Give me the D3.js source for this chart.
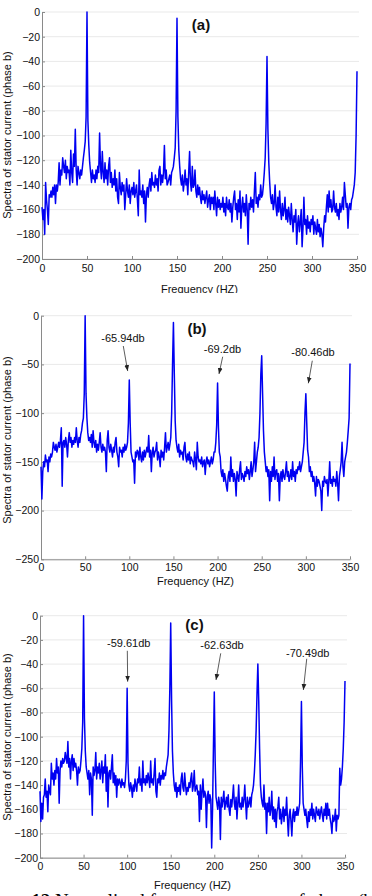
<!DOCTYPE html>
<html>
<head>
<meta charset="utf-8">
<script src="https://cdn.jsdelivr.net/npm/d3@7"></script>
<style>
html, body { margin: 0; padding: 0; background: #fff; }
svg { display: block; font-family: "Liberation Sans", Arial, sans-serif; }
</style>
</head>
<body>
<div id="chart"></div>
<script>
// spectra, 1 Hz steps from 0 to 350 Hz (dB)
const spectrumA = [
  -158,-168,-160,-180,-138,-152,-160,-172,-148,-150,
  -145,-150,-142,-148,-140,-155,-140,-145,-138,-122,
  -140,-128,-132,-118,-125,-130,-120,-135,-125,-130,
  -128,-140,-112,-130,-138,-115,-125,-95,-128,-140,
  -125,-130,-135,-128,-132,-125,-118,-112,-105,-85,
  0,-88,-108,-122,-130,-138,-128,-135,-132,-138,
  -128,-135,-125,-130,-98,-125,-135,-113,-130,-138,
  -122,-135,-128,-140,-125,-118,-138,-130,-142,-135,
  -140,-128,-145,-135,-150,-155,-130,-142,-148,-138,
  -145,-140,-160,-148,-135,-145,-150,-140,-155,-145,
  -142,-148,-138,-150,-145,-140,-152,-165,-128,-148,
  -145,-150,-140,-155,-145,-170,-148,-142,-150,-140,
  -135,-145,-130,-140,-138,-142,-132,-140,-135,-145,
  -128,-125,-140,-132,-138,-130,-108,-135,-128,-140,
  -138,-135,-132,-140,-130,-128,-125,-118,-110,-80,
  -5,-85,-112,-125,-135,-140,-132,-145,-138,-128,
  -140,-135,-148,-130,-113,-138,-145,-125,-142,-140,
  -128,-145,-150,-140,-148,-142,-150,-155,-145,-152,
  -148,-155,-150,-145,-158,-152,-148,-160,-150,-155,
  -150,-160,-145,-155,-165,-150,-158,-152,-160,-155,
  -158,-150,-162,-155,-165,-150,-158,-160,-152,-162,
  -155,-170,-158,-150,-145,-160,-155,-168,-152,-162,
  -145,-175,-158,-150,-162,-155,-165,-148,-160,-188,
  -155,-160,-150,-158,-152,-162,-145,-130,-155,-150,
  -158,-148,-152,-140,-150,-148,-140,-130,-118,-90,
  -36,-95,-122,-138,-150,-155,-148,-160,-155,-140,
  -158,-165,-150,-162,-145,-160,-168,-155,-165,-160,
  -150,-168,-160,-170,-158,-165,-172,-155,-168,-178,
  -165,-170,-160,-188,-172,-165,-178,-170,-160,-190,
  -175,-150,-172,-168,-180,-165,-175,-170,-178,-168,
  -172,-165,-180,-170,-175,-180,-168,-178,-172,-182,
  -175,-180,-190,-175,-165,-170,-158,-148,-162,-145,
  -158,-152,-162,-160,-145,-158,-162,-155,-165,-160,
  -168,-155,-162,-158,-150,-160,-138,-148,-158,-155,
  -175,-158,-155,-160,-152,-150,-145,-140,-130,-100,
  -48
];

const spectrumB = [
  -155,-188,-160,-150,-155,-143,-150,-148,-160,-145,
  -150,-142,-145,-140,-130,-135,-138,-132,-140,-135,
  -130,-135,-128,-115,-175,-130,-128,-135,-125,-132,
  -145,-128,-120,-130,-125,-135,-128,-132,-125,-130,
  -115,-128,-135,-125,-130,-122,-118,-110,-105,-80,
  0,-80,-105,-120,-128,-125,-130,-122,-135,-118,
  -130,-135,-128,-140,-132,-138,-130,-120,-135,-140,
  -132,-138,-135,-140,-160,-128,-118,-135,-140,-132,
  -138,-145,-135,-140,-130,-125,-140,-145,-155,-135,
  -140,-138,-145,-135,-140,-132,-138,-135,-130,-110,
  -66,-110,-140,-145,-150,-148,-172,-140,-145,-138,
  -140,-148,-135,-145,-150,-140,-148,-138,-145,-140,
  -135,-140,-123,-145,-138,-160,-140,-135,-145,-140,
  -138,-130,-148,-140,-145,-155,-138,-145,-140,-148,
  -135,-120,-140,-135,-130,-138,-132,-125,-100,-50,
  -7,-60,-108,-128,-135,-140,-132,-145,-138,-142,
  -140,-148,-135,-130,-145,-150,-142,-148,-140,-152,
  -145,-148,-150,-155,-140,-148,-158,-130,-145,-150,
  -148,-152,-145,-155,-150,-148,-163,-150,-145,-152,
  -148,-155,-150,-145,-152,-148,-140,-140,-130,-112,
  -69,-115,-140,-145,-160,-165,-158,-170,-162,-168,
  -175,-180,-165,-160,-170,-145,-165,-158,-170,-162,
  -168,-185,-160,-165,-170,-158,-150,-168,-162,-165,
  -170,-160,-165,-155,-162,-158,-168,-160,-150,-165,
  -158,-150,-130,-160,-150,-140,-135,-125,-100,-60,
  -41,-80,-118,-140,-150,-160,-155,-165,-158,-190,
  -160,-170,-155,-165,-145,-168,-160,-158,-170,-162,
  -190,-165,-160,-170,-158,-165,-168,-160,-150,-165,
  -160,-170,-165,-158,-168,-150,-165,-160,-170,-158,
  -162,-155,-158,-150,-160,-155,-150,-140,-130,-100,
  -80,-110,-138,-145,-160,-155,-165,-160,-170,-165,
  -172,-185,-165,-175,-168,-170,-175,-180,-200,-170,
  -175,-165,-170,-172,-168,-185,-170,-150,-172,-168,
  -175,-165,-170,-168,-175,-160,-172,-190,-165,-158,
  -150,-130,-155,-165,-150,-145,-140,-130,-118,-105,
  -49
];

const spectrumC = [
  -145,-170,-155,-168,-150,-148,-135,-150,-145,-162,
  -140,-145,-148,-122,-135,-130,-140,-128,-135,-118,
  -130,-125,-155,-128,-120,-125,-118,-122,-120,-113,
  -118,-122,-104,-125,-118,-135,-120,-115,-128,-118,
  -125,-122,-128,-140,-125,-130,-128,-120,-110,-88,
  0,-85,-112,-125,-130,-135,-128,-148,-130,-135,
  -165,-125,-132,-128,-113,-135,-125,-130,-122,-135,
  -128,-120,-138,-125,-130,-115,-145,-125,-158,-130,
  -128,-135,-125,-115,-138,-130,-140,-132,-150,-135,
  -140,-135,-138,-142,-135,-140,-138,-142,-135,-120,
  -60,-122,-140,-145,-138,-142,-150,-140,-145,-135,
  -140,-145,-135,-138,-125,-140,-135,-145,-120,-138,
  -135,-140,-132,-138,-130,-135,-142,-120,-138,-135,
  -140,-130,-118,-145,-150,-135,-138,-130,-140,-132,
  -135,-128,-135,-130,-132,-125,-120,-115,-95,-60,
  -6,-70,-112,-130,-140,-145,-138,-150,-142,-145,
  -140,-148,-135,-130,-142,-145,-130,-140,-148,-142,
  -145,-138,-142,-135,-130,-145,-140,-128,-145,-142,
  -140,-148,-145,-170,-140,-160,-145,-135,-150,-145,
  -148,-175,-150,-145,-155,-148,-152,-192,-160,-110,
  -63,-120,-150,-155,-160,-150,-155,-185,-150,-158,
  -152,-145,-160,-155,-150,-158,-148,-160,-165,-152,
  -158,-150,-140,-155,-160,-150,-168,-155,-140,-158,
  -155,-160,-150,-158,-152,-140,-155,-168,-150,-158,
  -155,-150,-158,-148,-145,-140,-130,-115,-95,-65,
  -40,-70,-110,-140,-150,-155,-158,-140,-160,-155,
  -180,-155,-162,-150,-165,-160,-145,-168,-158,-170,
  -160,-175,-162,-158,-150,-168,-160,-172,-165,-158,
  -170,-160,-165,-150,-168,-182,-165,-160,-170,-182,
  -165,-160,-170,-162,-165,-158,-165,-160,-155,-120,
  -71,-125,-155,-160,-165,-160,-168,-175,-162,-170,
  -160,-165,-155,-168,-160,-165,-170,-158,-162,-165,
  -160,-168,-162,-158,-165,-170,-160,-165,-155,-168,
  -155,-165,-160,-168,-172,-180,-165,-170,-168,-160,
  -178,-165,-168,-165,-126,-140,-135,-125,-110,-88,
  -54
];

const freqTicks = [0, 50, 100, 150, 200, 250, 300, 350];
const dbTicks20 = [0, -20, -40, -60, -80, -100, -120, -140, -160, -180, -200];
const dbTicks50 = [0, -50, -100, -150, -200, -250];
const panelTags = ["(a)", "(b)", "(c)"];
const peakLabelsB = ["-65.94db", "-69.2db", "-80.46db"];
const peakLabelsC = ["-59.61db", "-62.63db", "-70.49db"];
// label anchor / arrow start / arrow tip, in (Hz, dB)
const peakArrowsB = [
  [[92.9, -27.0], [93.2, -31.1], [98.2, -56.8]],
  [[205.6, -38.3], [205.8, -42.1], [201.6, -59.8]],
  [[308.1, -41.4], [307.3, -46.2], [302.8, -69.4]]
];
const peakArrowsC = [
  [[101.8, -25.9], [100.2, -29.0], [100.6, -54.5]],
  [[208.9, -27.5], [207.4, -31.1], [202.0, -53.1]],
  [[307.2, -33.9], [306.1, -35.6], [302.2, -61.4]]
];

const width = 372;
const height = 896;

const svg = d3.select("#chart").append("svg")
  .attr("width", width)
  .attr("height", height);

svg.append("defs").append("marker")
  .attr("id", "arrowhead")
  .attr("viewBox", "0 0 10 10")
  .attr("refX", 10)
  .attr("refY", 5)
  .attr("markerWidth", 6)
  .attr("markerHeight", 6)
  .attr("markerUnits", "userSpaceOnUse")
  .attr("orient", "auto")
  .append("path")
  .attr("d", "M0,1L10,5L0,9Z")
  .attr("fill", "#222");

svg.select("defs").append("clipPath")
  .attr("id", "clipTop")
  .append("rect")
  .attr("x", 0).attr("y", 0).attr("width", width).attr("height", 293);

const panels = [
  { data: spectrumA, yTicks: dbTicks20, yMin: -200, left: 42, right: 357, top: 12, bottom: 259,
    tickFont: 10.5, xPad: 6, xLabelY: 293, yLabelY: 135, tagX: 201, tagY: 30, clip: true,
    labels: [], arrows: [] },
  { data: spectrumB, yTicks: dbTicks50, yMin: -250, left: 41, right: 350, top: 315.7, bottom: 559.3,
    tickFont: 10.5, xPad: 4, xLabelY: 585, yLabelY: 440, tagX: 197, tagY: 334, clip: false,
    labels: peakLabelsB, arrows: peakArrowsB },
  { data: spectrumC, yTicks: dbTicks20, yMin: -200, left: 40, right: 345, top: 615.7, bottom: 857.7,
    tickFont: 10.5, xPad: 5, xLabelY: 889, yLabelY: 737, tagX: 194.5, tagY: 630, clip: false,
    labels: peakLabelsC, arrows: peakArrowsC }
];

panels.forEach((p, i) => {
  const g = svg.append("g");
  if (p.clip) g.attr("clip-path", "url(#clipTop)");

  const x = d3.scaleLinear().domain([0, 350]).range([p.left, p.right]);
  const y = d3.scaleLinear().domain([p.yMin, 0]).range([p.bottom, p.top]);

  // faint horizontal grid
  g.append("g")
    .selectAll("line")
    .data(p.yTicks)
    .join("line")
    .attr("x1", p.left)
    .attr("x2", p.right + 2)
    .attr("y1", d => y(d))
    .attr("y2", d => y(d))
    .attr("stroke", "#e9e9e9")
    .attr("stroke-width", 1);

  const yAxis = g.append("g")
    .attr("transform", `translate(${p.left},0)`)
    .call(d3.axisLeft(y).tickValues(p.yTicks).tickSize(-3).tickSizeOuter(0).tickPadding(2));

  const xAxis = g.append("g")
    .attr("transform", `translate(0,${p.bottom})`)
    .call(d3.axisBottom(x).tickValues(freqTicks).tickSize(-3).tickSizeOuter(0).tickPadding(p.xPad));

  [yAxis, xAxis].forEach(ax => {
    ax.select(".domain").attr("stroke", "#8a8a8a");
    ax.selectAll(".tick line").attr("stroke", "#8a8a8a");
    ax.selectAll(".tick text")
      .attr("fill", "#111")
      .style("font-family", "'Liberation Sans', Arial, sans-serif")
      .style("font-size", p.tickFont + "px");
  });

  g.append("path")
    .datum(p.data)
    .attr("fill", "none")
    .attr("stroke", "#0000f2")
    .attr("stroke-width", 1.5)
    .attr("stroke-linejoin", "round")
    .attr("d", d3.line()
      .x((d, f) => x(f))
      .y(d => y(d))
    );

  g.append("text")
    .attr("x", (p.left + p.right) / 2)
    .attr("y", p.xLabelY)
    .attr("text-anchor", "middle")
    .attr("fill", "#111")
    .style("font-size", "11px")
    .text("Frequency (HZ)");

  g.append("text")
    .attr("transform", `translate(11,${p.yLabelY}) rotate(-90)`)
    .attr("text-anchor", "middle")
    .attr("fill", "#111")
    .style("font-size", "11px")
    .text("Spectra of stator current (phase b)");

  g.append("text")
    .attr("x", p.tagX)
    .attr("y", p.tagY)
    .attr("text-anchor", "middle")
    .attr("fill", "#111")
    .style("font-size", "15px")
    .style("font-weight", "bold")
    .text(panelTags[i]);

  p.arrows.forEach((a, k) => {
    g.append("text")
      .attr("x", x(a[0][0]))
      .attr("y", y(a[0][1]))
      .attr("text-anchor", "middle")
      .attr("fill", "#111")
      .style("font-size", "11px")
      .text(p.labels[k]);

    g.append("line")
      .attr("x1", x(a[1][0]))
      .attr("y1", y(a[1][1]))
      .attr("x2", x(a[2][0]))
      .attr("y2", y(a[2][1]))
      .attr("stroke", "#333")
      .attr("stroke-width", 0.8)
      .attr("marker-end", "url(#arrowhead)");
  });
});

// figure caption, cut off by the bottom edge
const caption = svg.append("text")
  .attr("x", -27)
  .attr("y", 907)
  .attr("fill", "#000")
  .style("font-family", "'Liberation Serif', 'DejaVu Serif', serif")
  .style("font-size", "19px");
caption.append("tspan").style("font-weight", "bold").text("Figure 12");
caption.append("tspan").text(" Normalized frequency spectra of phase (b)");
</script>
</body>
</html>
